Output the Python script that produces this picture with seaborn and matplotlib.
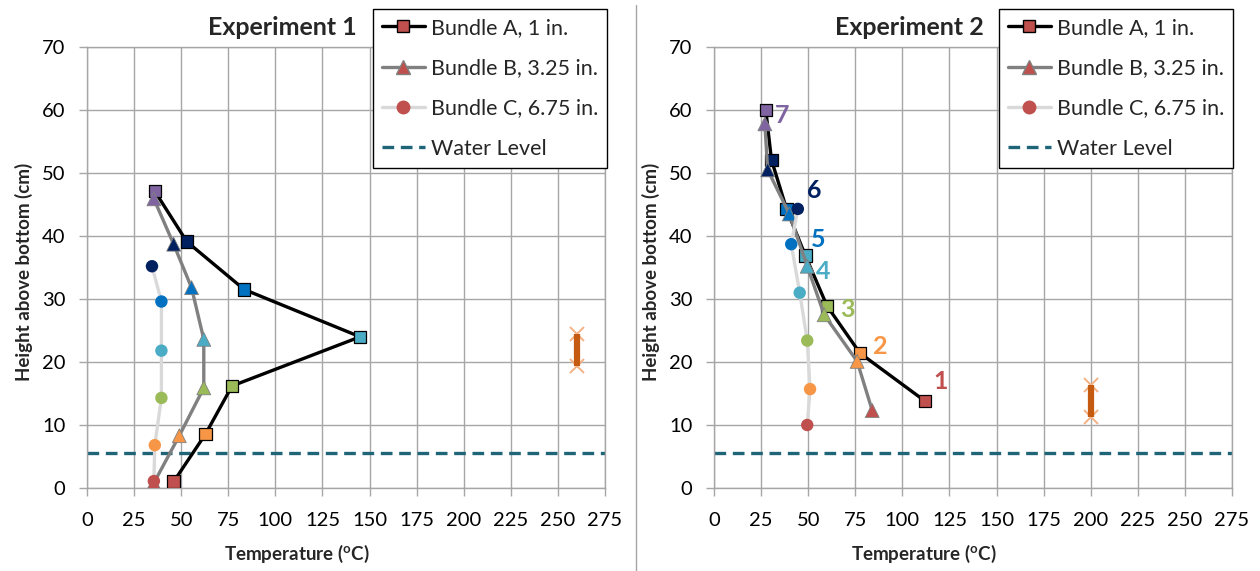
import matplotlib
matplotlib.use("Agg")
import matplotlib.pyplot as plt
from matplotlib.lines import Line2D
import seaborn as sns
import pandas as pd

# ---------------- data ----------------
point_colors = ["#C0504D", "#F79646", "#9BBB59", "#4BACC6", "#0070C0", "#002060", "#8064A2"]

exp1_A_x = [46, 63, 77, 145, 83.5, 53, 36]
exp1_A_y = [1.0, 8.6, 16.2, 24.0, 31.5, 39.1, 47.1]
exp1_B_x = [35.5, 49, 62, 62, 55.5, 46, 35.5]
exp1_B_y = [0.8, 8.3, 15.9, 23.6, 31.8, 38.7, 45.9]
exp1_C_x = [35.5, 36, 39.5, 39.5, 39.5, 34.5]
exp1_C_y = [1.1, 6.8, 14.3, 21.8, 29.6, 35.2]

exp2_A_x = [112, 77.5, 60, 48.5, 38.5, 30.5, 27.5]
exp2_A_y = [13.8, 21.4, 28.9, 36.9, 44.3, 52.1, 60.0]
exp2_B_x = [84, 76, 58.5, 49.5, 40, 28.5, 27]
exp2_B_y = [12.3, 20.1, 27.5, 35.2, 43.5, 50.5, 57.8]
exp2_C_x = [49.5, 51, 49.5, 45.5, 41, 44.5]
exp2_C_y = [10.0, 15.7, 23.4, 31.0, 38.7, 44.3]

water_level = [5.6, 5.6]
err_x = [260, 200]
err_center = [21.9, 13.8]
err_half = [2.5, 2.5]

titles = ["Experiment 1", "Experiment 2"]
series_labels = ["Bundle A, 1 in.", "Bundle B, 3.25 in.", "Bundle C, 6.75 in.", "Water Level"]
point_labels = ["1", "2", "3", "4", "5", "6", "7"]
x_ticks = list(range(0, 276, 25))
y_ticks = list(range(0, 71, 10))

# label positions (layout) for experiment 2 annotations
label_pos = [(120.2, 16.9), (88.3, 22.4), (70.6, 28.4), (57.8, 34.3),
             (55.5, 39.4), (53.2, 47.3), (36.0, 59.2)]

# ---------------- style ----------------
sns.set_theme(style="white")
plt.rcParams["font.family"] = ["Lato", "DejaVu Sans"]
plt.rcParams["mathtext.fontset"] = "custom"
plt.rcParams["mathtext.rm"] = "Lato"
plt.rcParams["mathtext.bf"] = "Lato:bold"

GRID = "#a6a6a6"
WATER = "#1f6577"

fig = plt.figure(figsize=(12.6, 5.71), dpi=100)
ax1 = fig.add_axes([87 / 1260, 83 / 571, 518 / 1260, 441 / 571])
ax2 = fig.add_axes([714 / 1260, 83 / 571, 518 / 1260, 441 / 571])

experiments = [
    (ax1, (exp1_A_x, exp1_A_y), (exp1_B_x, exp1_B_y), (exp1_C_x, exp1_C_y)),
    (ax2, (exp2_A_x, exp2_A_y), (exp2_B_x, exp2_B_y), (exp2_C_x, exp2_C_y)),
]

series_style = [
    dict(line="black", marker="s", s=80, edge="black", lw=0.9),
    dict(line="#808080", marker="^", s=100, edge="#808080", lw=0.6),
    dict(line="#d9d9d9", marker="o", s=80, edge="none", lw=0),
]

for i, (ax, A, B, C) in enumerate(experiments):
    z = 3
    for (xs, ys), st in zip((A, B, C), series_style):
        df = pd.DataFrame({"x": xs, "y": ys, "pt": list(range(len(xs)))})
        sns.lineplot(data=df, x="x", y="y", sort=False, estimator=None,
                     color=st["line"], lw=2.4, ax=ax, zorder=z)
        sns.scatterplot(data=df, x="x", y="y", hue="pt",
                        palette=point_colors[:len(xs)], marker=st["marker"],
                        s=st["s"], edgecolor=st["edge"], linewidth=st["lw"],
                        legend=False, ax=ax, zorder=z + 1)
        z += 2
    ax.axhline(water_level[i], color=WATER, lw=2.4, dashes=(3.5, 2), zorder=2)
    # error bar
    ax.plot([err_x[i]] * 2, [err_center[i] - err_half[i], err_center[i] + err_half[i]],
            ls="none", marker="x", ms=10, mew=1.4, color="#f4b183", zorder=9)
    ax.errorbar([err_x[i]], [err_center[i]], yerr=[err_half[i]], fmt="none",
                ecolor="#c55a11", elinewidth=4.5, capsize=0, zorder=10)

    ax.set_xlim(0, 275)
    ax.set_ylim(0, 70)
    ax.set_xticks(x_ticks)
    ax.set_yticks(y_ticks)
    ax.grid(True, color=GRID, lw=1.0)
    ax.set_axisbelow(True)
    for sp in ax.spines.values():
        sp.set_color(GRID)
        sp.set_linewidth(1.0)
    ax.tick_params(axis="both", direction="out", length=5.5, width=1.0, color=GRID,
                   labelsize=14.5, labelcolor="black", left=True, bottom=True)
    ax.tick_params(axis="x", pad=12)
    ax.tick_params(axis="y", pad=10)
    ax.set_xlabel("Temperature ($\\mathbf{^o}$C)", fontsize=13.5, fontweight="bold")
    ax.set_ylabel("Height above bottom (cm)", fontsize=13.5, fontweight="bold")
    ax.xaxis.set_label_coords(0.405, -0.125)
    ax.yaxis.set_label_coords(-0.105, 0.49)
    ax.text(0.52, 1.045, titles[i], transform=ax.transAxes, ha="right", va="center",
            fontsize=18, fontweight="bold")

    handles = [
        Line2D([], [], color="black", lw=2.4, marker="s", ms=9, mfc=point_colors[0], mec="black"),
        Line2D([], [], color="#808080", lw=2.4, marker="^", ms=10, mfc=point_colors[0], mec="#808080"),
        Line2D([], [], color="#d9d9d9", lw=2.4, marker="o", ms=9, mfc=point_colors[0], mec=point_colors[0]),
        Line2D([], [], color=WATER, lw=2.4, dashes=(3.5, 2)),
    ]
    leg_left = [373, 999][i]
    leg = fig.legend(handles, series_labels, loc="upper left",
                     bbox_to_anchor=(leg_left / 1260, 1 - 9 / 571),
                     bbox_transform=fig.transFigure, borderaxespad=0,
                     fontsize=15.5, frameon=True, fancybox=False, edgecolor="black",
                     framealpha=1, handlelength=2.0, handletextpad=0.3,
                     labelspacing=0.95, borderpad=0.4)
    leg.get_frame().set_linewidth(1.0)

for (tx, ty), lab, col in zip(label_pos, point_labels, point_colors):
    ax2.text(tx, ty, lab, color=col, fontsize=18, fontweight="bold",
             ha="center", va="center", zorder=12)

fig.add_artist(Line2D([636 / 1260] * 2, [0, 1 - 5 / 571], color=GRID, lw=1.0,
                      transform=fig.transFigure))

fig.savefig("out.png", dpi=100)
